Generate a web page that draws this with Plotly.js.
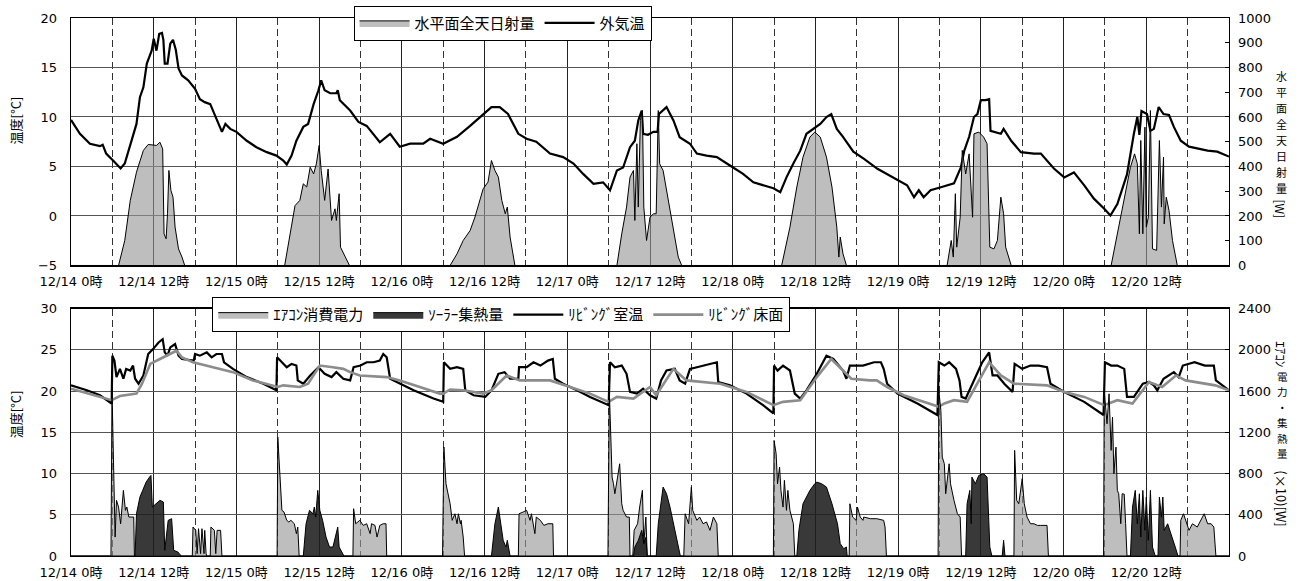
<!DOCTYPE html>
<html>
<head>
<meta charset="utf-8">
<script src="https://cdn.plot.ly/plotly-3.0.1.min.js"></script>
<style>html,body{margin:0;padding:0;background:#fff;}#chart{width:1304px;height:581px;}</style>
</head>
<body>
<div id="chart"></div>
<script>
// ---- tick labels (hours from 12/14 0時) ----
const tickHours = [0,12,24,36,48,60,72,84,96,108,120,132,144,156];
const tickLabels = ['12/14 0時','12/14 12時','12/15 0時','12/15 12時','12/16 0時','12/16 12時','12/17 0時','12/17 12時','12/18 0時','12/18 12時','12/19 0時','12/19 12時','12/20 0時','12/20 12時'];
const dashHours = [6,18,30,42,54,66,78,90,102,114,126,138,150,162];

// ---- top: outside air temperature [°C]  ([hour, value]) ----
const outsideTemp = [[0,9.7],[1.3,8.3],[2.75,7.3],[4.2,7.05],[4.6,7.2],[5.1,6.3],[6.1,5.6],[7.2,4.8],[7.8,5.3],[9.0,8.0],[9.5,9.3],[10.0,12.0],[10.5,13.0],[11.0,15.4],[11.7,16.7],[12.0,17.9],[12.4,16.7],[12.8,18.4],[13.2,18.5],[13.4,17.8],[13.6,15.4],[14.0,15.4],[14.4,17.4],[14.8,17.8],[15.2,16.8],[15.6,14.9],[16.1,14.2],[17.0,13.7],[18.0,12.85],[18.7,11.8],[19.4,11.5],[20.2,11.3],[20.9,10.15],[21.9,8.5],[22.4,9.3],[23.1,8.8],[24.0,8.5],[25.5,7.6],[26.9,6.95],[28.4,6.45],[29.8,6.1],[30.8,5.6],[31.3,5.2],[32.0,6.1],[32.7,7.6],[33.7,9.0],[34.4,9.3],[35.2,11.3],[35.9,12.7],[36.3,13.7],[36.8,12.7],[37.6,12.4],[38.5,12.4],[38.7,12.7],[39.0,11.7],[40.5,10.65],[41.7,9.5],[42.9,9.1],[44.8,7.45],[46.3,8.3],[47.7,7.0],[49.2,7.3],[51.1,7.3],[52.1,7.8],[54.0,7.3],[56.0,8.0],[57.9,9.1],[59.8,10.3],[61.0,11.0],[62.2,11.0],[63.4,10.3],[64.9,8.3],[66.1,7.8],[67.5,7.5],[69.5,6.3],[71.4,5.95],[72.9,5.3],[74.3,4.25],[75.8,3.25],[77.2,3.4],[78.2,2.6],[79.2,4.6],[80.1,4.9],[81.1,6.95],[81.8,7.6],[82.3,9.65],[82.8,10.65],[83.0,8.3],[83.7,8.2],[84.5,8.5],[85.1,8.5],[85.3,10.3],[86.4,11.0],[87.4,9.65],[88.3,7.96],[89.8,7.3],[90.8,6.3],[92.2,6.1],[93.7,5.95],[95.6,5.1],[97.5,4.25],[99.0,3.4],[100.4,3.1],[101.9,2.8],[102.9,2.4],[103.8,3.9],[104.8,5.3],[105.8,6.6],[106.7,8.3],[107.7,8.8],[108.7,9.3],[109.6,10.0],[110.3,10.3],[111.1,8.8],[112.0,8.0],[113.5,6.5],[115.0,5.8],[117.0,4.77],[119.9,3.6],[121.3,3.1],[122.3,1.9],[123.0,2.6],[123.7,1.9],[124.7,2.6],[126.2,2.9],[128.1,3.3],[129.1,4.9],[129.6,6.6],[130.3,8.0],[131.0,10.0],[131.5,10.3],[132.0,11.7],[132.7,11.7],[133.2,11.8],[133.4,8.6],[134.9,8.3],[135.3,8.8],[136.4,7.6],[137.8,6.45],[139.7,6.3],[140.7,6.3],[142.6,4.8],[144.1,3.9],[145.5,4.4],[147.0,3.1],[148.4,1.75],[149.9,0.73],[150.8,0.05],[151.8,1.2],[153.2,4.2],[154.2,8.3],[154.7,10.0],[155.0,8.2],[155.3,10.6],[156.1,10.3],[156.6,8.6],[157.1,8.8],[157.8,11.0],[158.5,10.3],[159.3,10.2],[160.0,9.0],[161.0,7.6],[162.2,7.0],[163.4,6.8],[164.9,6.6],[166.3,6.5],[168,6.0]];

// ---- top: horizontal global solar radiation [W] ----
const solarRadiation = [[0,0],[6.9,0],[7.8,101],[8.6,263],[9.5,377],[10.5,465],[11.2,489],[12.4,485],[12.9,498],[13.3,471],[13.5,128],[13.8,108],[14.0,209],[14.2,384],[14.5,303],[14.8,276],[15.1,155],[15.6,67],[16.1,34],[16.5,0],
[31.0,0],[31.8,128],[32.5,242],[33.2,263],[33.7,330],[34.2,317],[34.7,397],[35.2,370],[35.6,411],[36.0,485],[36.3,384],[36.8,263],[37.3,390],[37.8,182],[38.3,229],[38.5,182],[38.9,290],[39.1,74],[39.8,34],[40.4,0],
[55.0,0],[56.0,47],[56.9,101],[57.9,141],[58.6,195],[59.3,263],[59.8,310],[60.5,337],[61.0,424],[61.5,384],[62.0,357],[62.5,263],[63.0,209],[63.3,236],[63.7,115],[64.4,0],
[79.2,0],[79.9,128],[80.6,236],[81.1,357],[81.6,384],[81.8,182],[82.1,492],[82.3,236],[82.6,586],[82.9,626],[83.1,236],[83.5,101],[84.0,195],[84.5,209],[84.9,209],[85.2,626],[85.4,411],[85.9,384],[86.6,276],[87.4,141],[88.1,34],[88.6,0],
[103.1,0],[104.3,155],[105.3,317],[106.2,438],[107.2,519],[107.9,539],[108.7,519],[109.6,438],[110.4,317],[111.1,155],[111.4,34],[111.6,115],[112.0,47],[112.5,0],
[127.1,0],[127.7,101],[128.0,34],[128.3,290],[128.5,74],[129.0,195],[129.3,465],[129.8,370],[130.3,451],[130.8,195],[131.0,532],[131.7,539],[132.4,519],[132.9,492],[133.3,74],[133.9,67],[134.4,101],[134.9,276],[135.3,209],[135.6,74],[136.4,0],
[150.9,0],[151.8,128],[152.8,263],[153.7,397],[154.3,451],[154.7,411],[155.0,128],[155.2,505],[155.5,128],[155.8,559],[156.0,155],[156.3,195],[156.6,626],[156.9,67],[157.5,61],[157.9,505],[158.2,236],[158.5,438],[158.6,168],[158.9,276],[159.3,222],[159.8,101],[160.5,0],[168,0]];

// ---- bottom: living room air temperature [°C] ----
const roomTemp = [[0,20.7],[2.3,20.1],[4.2,19.5],[5.9,18.5],[6.0,24.3],[6.3,23.7],[6.6,21.7],[7.1,22.7],[7.6,21.5],[8.0,22.7],[8.6,22.5],[9.0,23.1],[9.3,21.5],[9.8,20.9],[10.5,21.9],[11.2,24.5],[11.9,25.1],[12.7,25.9],[13.3,26.3],[13.6,24.7],[14.0,24.3],[14.4,25.3],[15.1,25.7],[15.6,24.3],[16.1,23.9],[17.3,23.7],[17.8,23.7],[18.0,24.5],[18.7,24.3],[19.7,24.7],[20.4,24.1],[21.1,24.5],[21.9,24.5],[22.2,23.5],[23.5,22.7],[25.5,21.7],[27.9,20.9],[29.8,20.1],[29.9,24.1],[30.6,23.5],[31.3,22.9],[32.0,23.3],[32.7,23.1],[32.9,21.3],[33.7,20.9],[34.7,21.9],[35.9,22.9],[36.8,22.1],[37.8,21.7],[38.5,22.3],[39.5,21.5],[40.5,21.3],[41.0,22.9],[42.0,23.1],[42.9,23.5],[43.9,23.5],[44.8,23.7],[45.3,24.5],[45.8,24.1],[46.3,21.5],[47.7,20.9],[49.7,20.1],[52.6,19.1],[54.0,18.7],[54.1,23.5],[55.0,22.7],[56.0,22.9],[56.9,22.7],[57.2,20.1],[58.4,19.5],[60.1,19.3],[61.0,20.1],[62.0,22.1],[62.9,22.3],[63.7,21.5],[64.9,21.5],[65.0,22.9],[66.1,22.9],[67.1,23.5],[68.1,23.1],[69.2,23.7],[69.9,23.9],[70.2,21.5],[71.4,20.9],[73.4,20.1],[75.3,19.3],[78.0,18.3],[78.2,23.5],[78.9,22.9],[79.9,23.1],[80.6,22.1],[81.1,19.9],[82.1,19.7],[83.0,20.3],[84.0,19.5],[84.9,19.1],[85.6,21.3],[86.4,22.5],[87.6,22.7],[88.3,21.3],[89.1,20.9],[89.8,22.7],[90.8,22.9],[91.7,23.1],[92.7,23.3],[93.7,23.5],[93.9,21.1],[95.6,20.7],[98.0,19.7],[100.4,18.3],[101.9,17.3],[102.0,23.1],[102.5,22.5],[103.3,23.1],[104.3,22.5],[105.0,19.7],[105.8,19.1],[106.7,20.1],[108.2,22.1],[109.6,24.3],[110.6,23.9],[112.0,22.5],[112.5,21.5],[113.0,23.1],[114.9,23.1],[116.5,23.5],[117.5,23.5],[117.9,22.7],[118.4,20.9],[119.9,19.7],[122.8,18.5],[125.7,17.1],[125.9,23.5],[126.7,23.1],[127.4,23.5],[128.4,22.7],[128.9,21.3],[129.2,19.3],[129.8,19.1],[131.0,21.3],[132.2,23.5],[133.2,24.7],[133.7,21.9],[134.4,21.9],[135.4,20.9],[136.6,19.9],[136.9,23.3],[138.0,22.7],[139.2,23.1],[140.4,23.1],[141.6,22.9],[142.1,20.9],[144.1,19.9],[147.0,18.7],[149.8,17.1],[150.0,23.5],[150.9,23.1],[151.8,23.1],[152.8,22.7],[153.2,19.3],[154.2,19.3],[155.5,20.9],[156.4,21.1],[157.1,20.7],[157.6,20.1],[158.5,21.5],[160.0,22.3],[160.7,21.7],[161.3,23.1],[163.0,23.5],[164.5,23.1],[165.8,23.1],[166.1,21.3],[168,20.1]];

// ---- bottom: living room floor surface temperature [°C] ----
const floorTemp = [[0,20.3],[5.9,18.9],[7.1,19.4],[9.5,19.7],[10.3,20.9],[11.5,23.3],[12.9,23.9],[13.9,24.3],[15.3,24.9],[16.1,24.1],[17.7,23.5],[20.6,22.9],[23.5,22.3],[26.4,21.3],[29.3,20.7],[30.0,20.5],[30.8,20.7],[33.2,20.5],[34.4,20.9],[36.1,23.1],[38.0,22.9],[39.5,22.7],[40.5,22.3],[41.9,21.9],[45.8,21.7],[47.7,21.3],[50.6,20.5],[53.5,19.7],[54.0,19.7],[55.0,20.2],[56.9,20.1],[59.8,19.7],[61.0,20.1],[63.2,21.9],[65.1,21.3],[69.5,21.3],[72.4,20.5],[75.3,19.7],[78.0,18.7],[79.2,19.3],[81.6,19.1],[84.0,20.5],[84.9,19.5],[87.4,22.7],[89.3,21.3],[92.2,21.1],[94.2,20.9],[98.0,19.9],[101.9,18.3],[103.3,18.7],[105.8,18.9],[108.2,21.7],[110.3,23.9],[112.0,22.5],[113.2,21.5],[115.9,21.3],[116.9,21.3],[118.4,20.5],[120.8,19.5],[123.7,18.7],[125.9,18.1],[126.7,18.5],[128.1,18.9],[130.0,18.7],[131.5,20.9],[133.2,23.5],[134.9,21.9],[136.8,20.9],[141.6,20.7],[144.1,19.9],[147.0,19.3],[149.9,18.3],[151.8,18.9],[154.0,18.5],[156.4,21.1],[158.3,20.5],[160.3,21.9],[161.7,21.3],[166.0,20.7],[168,20.1]];

// ---- bottom: air-conditioner power [W] ----
const acPower = [[0,0],[5.8,0],[5.95,1606],[6.2,960],[6.4,184],[6.6,540],[6.9,475],[7.2,313],[7.6,637],[7.9,443],[8.1,475],[8.4,378],[8.8,378],[9.1,378],[9.2,0],
[17.6,0],[17.7,281],[18.1,249],[18.3,23],[18.5,265],[18.8,23],[19.0,265],[19.3,23],[19.4,249],[19.6,23],[19.7,0],[20.2,0],[20.3,281],[20.8,249],[21.0,23],[21.2,249],[21.7,249],[21.9,0],
[29.9,0],[30.0,1154],[30.4,734],[30.6,443],[30.9,427],[31.3,346],[31.6,330],[31.9,346],[32.4,313],[32.7,217],[32.9,281],[33.1,0],
[40.9,0],[41.0,459],[41.3,313],[41.9,346],[42.4,297],[42.9,313],[43.4,217],[43.6,313],[44.1,297],[44.4,184],[44.8,297],[45.3,313],[45.7,313],[45.8,0],
[53.9,0],[54.1,1057],[54.4,701],[54.7,604],[55.0,507],[55.3,346],[55.7,410],[56.0,313],[56.2,410],[56.5,313],[56.6,346],[56.9,184],[57.1,0],
[64.9,0],[65.0,410],[65.6,427],[66.1,443],[66.6,346],[66.8,410],[67.3,217],[67.5,378],[68.1,346],[68.6,297],[69.2,313],[69.9,313],[70.0,0],
[77.9,0],[78.1,1606],[78.5,766],[78.7,701],[78.9,604],[79.3,766],[79.6,895],[79.9,507],[80.1,443],[80.6,378],[81.0,378],[81.1,0],
[81.5,0],[81.7,249],[82.2,313],[82.5,475],[82.9,637],[83.1,120],[83.4,378],[83.6,0],
[88.9,0],[89.1,410],[89.6,313],[90.0,669],[90.2,443],[90.8,346],[91.2,378],[91.7,313],[92.2,330],[92.7,249],[93.2,378],[93.7,313],[93.9,0],
[101.9,0],[102.0,1121],[102.3,992],[102.5,701],[102.8,863],[103.0,637],[103.3,475],[103.5,734],[103.8,443],[104.0,637],[104.3,443],[104.8,313],[105.0,0],
[112.9,0],[113.0,507],[113.4,378],[113.9,346],[114.1,475],[114.5,378],[114.9,346],[115.0,378],[116.0,362],[116.9,362],[117.6,346],[117.9,346],[118.1,281],[118.3,0],
[125.8,0],[125.9,1606],[126.2,1412],[126.4,960],[126.7,895],[126.9,604],[127.4,895],[127.6,701],[128.1,540],[128.6,410],[129.0,378],[129.2,0],
[136.8,0],[136.9,1025],[137.2,540],[137.5,507],[138.0,750],[138.3,507],[138.7,378],[139.2,313],[139.7,313],[140.2,297],[140.7,297],[141.6,297],[141.8,0],
[149.8,0],[149.9,1606],[150.3,1283],[150.6,1574],[150.9,1025],[151.1,1348],[151.3,798],[151.6,1057],[151.8,637],[152.0,604],[152.3,313],[152.5,604],[152.8,600],[153.0,313],[153.2,0],
[160.9,0],[161.0,346],[161.4,410],[161.7,346],[162.2,249],[162.7,313],[163.4,281],[164.4,410],[164.9,313],[165.4,313],[165.8,281],[166.1,0],[168,0]];

// ---- bottom: solar heat collection [W] ----
const solarHeat = [[0,0],[9.3,0],[9.5,410],[10.0,572],[10.4,637],[10.9,717],[11.4,766],[11.6,782],[11.8,475],[12.4,507],[12.9,540],[13.4,524],[13.6,55],[14.1,346],[14.6,362],[14.9,55],[15.5,39],[16.0,0],
[33.7,0],[34.1,313],[34.6,443],[35.1,410],[35.3,475],[35.5,378],[35.8,637],[36.1,443],[36.5,346],[37.0,184],[37.5,87],[38.0,87],[38.7,281],[38.9,87],[39.4,23],[39.6,0],
[61.0,0],[61.5,313],[62.0,475],[62.4,313],[62.7,152],[63.1,87],[63.3,152],[63.7,0],
[81.6,0],[81.8,87],[82.3,150],[82.8,250],[83.1,120],[83.4,180],[83.6,0],
[84.9,0],[85.2,313],[85.9,669],[86.4,604],[86.9,475],[87.4,313],[87.9,184],[88.4,0],
[105.3,0],[105.6,249],[106.2,507],[107.2,637],[107.9,701],[108.2,717],[108.9,701],[109.6,669],[110.4,507],[111.2,313],[111.6,120],[112.1,71],[112.5,87],[112.6,0],
[129.8,0],[130.0,507],[130.4,637],[130.6,313],[130.7,766],[131.2,701],[131.7,782],[132.4,798],[132.9,766],[133.3,87],[133.6,0],
[135.1,0],[135.3,152],[135.5,0],
[153.7,0],[154.0,475],[154.4,637],[154.7,313],[155.0,604],[155.2,184],[155.5,637],[155.8,249],[156.0,572],[156.3,152],[156.6,637],[156.9,87],[157.3,0],[157.7,0],[157.9,572],[158.2,378],[158.4,572],[158.6,249],[159.1,313],[159.6,217],[160.2,87],[160.6,0],[168,0]];

const xs = a => a.map(p => p[0]);
const ys = a => a.map(p => p[1]);

const FONT = 'DejaVu Sans, "Noto Sans CJK JP", sans-serif';
const LFONT = '"Noto Sans CJK JP", sans-serif';

const traces = [
  {x: xs(solarRadiation), y: ys(solarRadiation), xaxis: 'x', yaxis: 'y2', name: '水平面全天日射量',
   type: 'scatter', mode: 'lines', fill: 'tozeroy', fillcolor: 'rgba(150,150,150,0.62)',
   line: {color: '#000', width: 1}, legend: 'legend'},
  {x: xs(outsideTemp), y: ys(outsideTemp), xaxis: 'x', yaxis: 'y', name: '外気温',
   type: 'scatter', mode: 'lines', line: {color: '#000', width: 2.2}, legend: 'legend'},
  {x: xs(acPower), y: ys(acPower), xaxis: 'x2', yaxis: 'y4', name: 'ｴｱｺﾝ消費電力',
   type: 'scatter', mode: 'lines', fill: 'tozeroy', fillcolor: 'rgba(150,150,150,0.62)',
   line: {color: '#000', width: 1}, legend: 'legend2'},
  {x: xs(solarHeat), y: ys(solarHeat), xaxis: 'x2', yaxis: 'y4', name: 'ｿｰﾗｰ集熱量',
   type: 'scatter', mode: 'lines', fill: 'tozeroy', fillcolor: 'rgba(30,30,30,0.88)',
   line: {color: '#000', width: 1}, legend: 'legend2'},
  {x: xs(roomTemp), y: ys(roomTemp), xaxis: 'x2', yaxis: 'y3', name: 'ﾘﾋﾞﾝｸﾞ室温',
   type: 'scatter', mode: 'lines', line: {color: '#000', width: 2.2}, legend: 'legend2'},
  {x: xs(floorTemp), y: ys(floorTemp), xaxis: 'x2', yaxis: 'y3', name: 'ﾘﾋﾞﾝｸﾞ床面',
   type: 'scatter', mode: 'lines', line: {color: '#8c8c8c', width: 2.6}, legend: 'legend2'}
];

const xBase = {
  range: [0, 168], tickvals: tickHours, ticktext: tickLabels, ticks: '',
  showgrid: true, gridcolor: '#222', gridwidth: 1, zeroline: false,
  showline: true, mirror: true, linecolor: '#000', linewidth: 1.3,
  tickfont: {family: FONT, size: 13, color: '#000'}, ticklabelstandoff: 4,
  minor: {tickvals: dashHours, showgrid: true, gridcolor: '#333', gridwidth: 1, griddash: '7px,4px', ticks: ''},
  fixedrange: true
};
const yLeft = {
  showgrid: true, gridcolor: '#555', gridwidth: 1, zeroline: false,
  showline: true, mirror: true, linecolor: '#000', linewidth: 1.3, ticks: '',
  tickfont: {family: FONT, size: 13, color: '#000'}, ticklabelstandoff: 10
};
const yRight = {
  side: 'right', showgrid: false, zeroline: false, showline: false,
  ticks: 'inside', ticklen: 4, tickcolor: '#000',
  tickfont: {family: FONT, size: 13, color: '#000'}, ticklabelstandoff: 8
};

// page-pixel → paper conversion for the vertical (tategaki) axis titles
const PT = 17.5, PB = 555.7, PL = 71, PW = 1158;
const py = px => (PB - px) / (PB - PT);
const pxx = px => (px - PL) / PW;
const ann = (text, xPx, yPx, angle, size) => ({
  text: text, xref: 'paper', yref: 'paper', x: pxx(xPx), y: py(yPx), xanchor: 'center', yanchor: 'middle',
  textangle: angle, showarrow: false, font: {family: LFONT, size: size, color: '#000'}
});
const stack = (str, xPx, y0, step, size) => Array.from(str).map((c, i) => ann(c, xPx, y0 + i * step, 0, size));

const layout = {
  width: 1304, height: 581,
  margin: {l: 71, r: 75, t: 17.5, b: 25.3, pad: 0, autoexpand: false},
  paper_bgcolor: '#fff', plot_bgcolor: '#fff',
  font: {family: FONT, size: 13, color: '#000'},
  xaxis: Object.assign({}, xBase, {anchor: 'y', domain: [0, 1], automargin: false}),
  xaxis2: Object.assign({}, xBase, {anchor: 'y3', domain: [0, 1], automargin: false}),
  yaxis: Object.assign({}, yLeft, {domain: [0.540, 1], range: [-5, 20], dtick: 5, anchor: 'x', automargin: false}),
  yaxis2: Object.assign({}, yRight, {overlaying: 'y', anchor: 'x', range: [0, 1000], dtick: 100, automargin: false}),
  yaxis3: Object.assign({}, yLeft, {domain: [0, 0.4597], range: [0, 30], dtick: 5, anchor: 'x2', automargin: false}),
  yaxis4: Object.assign({}, yRight, {overlaying: 'y3', anchor: 'x2', range: [0, 2400], dtick: 400, automargin: false}),
  legend: {orientation: 'h', x: 0.244, xanchor: 'left', y: 1.023, yanchor: 'top',
           bgcolor: '#fff', bordercolor: '#000', borderwidth: 1,
           font: {family: LFONT, size: 15, color: '#000'}, itemwidth: 50, tracegroupgap: 0},
  legend2: {orientation: 'h', x: 0.122, xanchor: 'left', y: 0.4807, yanchor: 'top',
           bgcolor: '#fff', bordercolor: '#000', borderwidth: 1,
           font: {family: LFONT, size: 15, color: '#000'}, itemwidth: 50, tracegroupgap: 0},
  showlegend: true,
  annotations: [
    ann('温度[°C]', 15, 120, -90, 13),
    ann('温度[°C]', 15, 414, -90, 13)
  ].concat(
    stack('水平面全天日射量', 1281, 76, 16, 11),
    [ann('[W]', 1281, 208, 90, 12)],
    [ann('ｴｱｺﾝ', 1282, 354, 90, 13)],
    stack('電力・集熱量', 1282, 376, 15.5, 10.5),
    [ann('(×10)[W]', 1282, 498, 90, 13)]
  )
};

Plotly.newPlot('chart', traces, layout, {displayModeBar: false, staticPlot: true});
</script>
</body>
</html>
